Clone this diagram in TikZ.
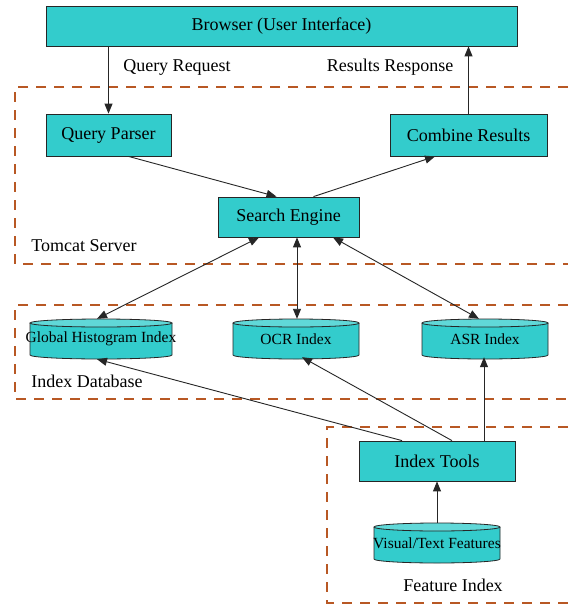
\documentclass[tikz,border=0pt]{standalone}
\usepackage{fontspec}
\setmainfont{Liberation Serif}
\usetikzlibrary{arrows.meta}
\definecolor{boxcyan}{RGB}{51,204,204}
\definecolor{captop}{RGB}{96,216,216}
\definecolor{zone}{RGB}{184,88,36}

% Database cylinder: name, centre x, centre y, width, label
\newcommand\DrawCyl[5]{%
  \path[fill=boxcyan] ({#2-#4/2},{#3-16}) -- ({#2-#4/2},{#3+16})
    arc[start angle=180,end angle=0,x radius=#4/2,y radius=4] -- ({#2+#4/2},{#3-16}) -- cycle;
  \draw[cylline] ({#2-#4/2},{#3-16}) -- ({#2-#4/2},{#3+16})
    arc[start angle=180,end angle=0,x radius=#4/2,y radius=4] -- ({#2+#4/2},{#3-16});
  \draw[cylline,fill=captop] (#2,{#3-16}) ellipse[x radius=#4/2,y radius=4];
  \node[dbnode,minimum width=#4pt,minimum height=40pt] (#1) at (#2,#3) {#5};
}

\begin{document}
\begin{tikzpicture}[x=1pt,y=-1pt,
  box/.style={draw=black!85, line width=0.8pt, fill=boxcyan, inner sep=0pt,
    font=\fontsize{18}{20}\selectfont},
  cylline/.style={draw=black!85, line width=0.8pt},
  dbnode/.style={inner sep=0pt, font=\fontsize{15.5}{17}\selectfont},
  lbl/.style={font=\fontsize{18}{20}\selectfont, inner sep=0pt},
  zoneline/.style={draw=zone, line width=2.6pt, dash pattern=on 10pt off 8pt},
  link/.style={draw=black!85, line width=0.9pt, -{Triangle[length=10pt,width=8pt]}},
  both/.style={draw=black!85, line width=0.9pt,
    {Triangle[length=10pt,width=8pt]}-{Triangle[length=10pt,width=8pt]}},
  plain/.style={draw=black!85, line width=0.9pt}
]
\useasboundingbox[fill=white] (0,0) rectangle (568,605);

% dashed zones
\draw[zoneline] (568,87) -- (15,87) -- (15,264) -- (568,264);
\draw[zoneline] (568,305) -- (15,305) -- (15,399) -- (568,399);
\draw[zoneline] (568,427) -- (327,427) -- (327,603) -- (568,603);

\node[lbl] (tomcat) at (84,246) {Tomcat Server};
\node[lbl] (idxdb) at (87,381) {Index Database};
\node[lbl] (featidx) at (453,585) {Feature Index};

% processing boxes
\node[box,minimum width=471pt,minimum height=40pt] (browser) at (281.5,26) {Browser (User Interface)};
\node[box,minimum width=125pt,minimum height=42pt] (qp) at (108.5,135) {Query Parser};
\node[box,minimum width=157pt,minimum height=42pt] (cr) at (468.5,135) {Combine Results};
\node[box,minimum width=141pt,minimum height=40pt] (se) at (288.5,217) {Search Engine};
\node[box,minimum width=156pt,minimum height=40pt] (it) at (437,461) {Index Tools};

% databases
\DrawCyl{gh}{101}{339}{142}{Global Histogram Index}
\DrawCyl{ocr}{296}{339}{126}{OCR Index}
\DrawCyl{asr}{485}{339}{126}{ASR Index}
\DrawCyl{vt}{437}{543}{126}{Visual/Text Features}

% request / response
\draw[link] (browser.south -| qp.north) -- (qp.north);
\node[lbl] (qreq) at (177,67) {Query Request};
\draw[link] (cr.north) -- (browser.south -| cr.north);
\node[lbl] (rresp) at (390,67) {Results Response};

% inside the server
\draw[link] ([xshift=20pt]qp.south) -- ([xshift=-12pt]se.north);
\draw[link] ([xshift=25pt]se.north) -- ([xshift=-33.5pt]cr.south);

% search engine <-> indexes
\draw[both] ([xshift=-29.5pt]se.south) -- ([xshift=-4pt]gh.north);
\draw[both] ([xshift=8.5pt]se.south) -- ([xshift=1pt]ocr.north);
\draw[both] ([xshift=44.5pt]se.south) -- ([xshift=-6pt]asr.north);

% index tools build the indexes
\draw[link] ([xshift=-35pt]it.north) -- ([xshift=-4pt]gh.south);
\draw[link] ([xshift=15pt]it.north) -- ([xshift=6pt,yshift=2pt]ocr.south);
\draw[link] ([xshift=47pt]it.north) -- ([xshift=-1pt,yshift=2pt]asr.south);
\draw[link] (vt.north) -- (it.south);
\end{tikzpicture}
\end{document}
